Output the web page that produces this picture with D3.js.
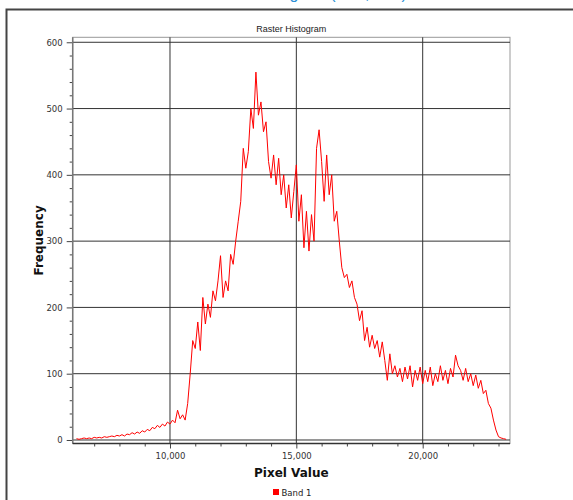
<!DOCTYPE html>
<html>
<head>
<meta charset="utf-8">
<script src="https://cdn.jsdelivr.net/npm/d3@7"></script>
<style>
  body { margin: 0; background: #fff; }
  svg { display: block; }
</style>
</head>
<body>
<div id="chart"></div>
<script>
// pixel value bins, 100 wide
var binStart = 6300;
var binStep = 100;
var frequency = [
  2, 1, 2, 3, 2, 3, 2, 4, 3, 4, 3, 5, 4, 5, 6, 5, 7, 6, 8, 6,
  9, 8, 11, 9, 12, 10, 14, 12, 16, 14, 19, 17, 22, 19, 24, 21, 27, 24,
  30, 26, 45, 32, 38, 30, 55, 100, 150, 138, 178, 135, 215, 175, 205, 185,
  225, 210, 240, 278, 215, 240, 225, 280, 265, 300, 330, 360, 440, 410, 435, 500,
  470, 555, 490, 510, 465, 480, 420, 395, 430, 385, 425, 370, 400, 350, 385, 335,
  375, 415, 330, 370, 290, 345, 285, 340, 300, 440, 468, 420, 360, 430, 370, 400,
  330, 345, 300, 260, 245, 250, 230, 240, 215, 205, 180, 195, 150, 170, 140, 158,
  138, 150, 125, 148, 120, 90, 130, 100, 112, 95, 108, 88, 110, 92, 112, 80,
  105, 90, 110, 85, 105, 88, 110, 82, 100, 88, 112, 90, 105, 85, 108, 95,
  128, 112, 105, 90, 108, 88, 100, 82, 98, 78, 90, 70, 75, 55, 48, 30,
  15, 5, 3, 2, 1
];
var xMajorTicks = [10000, 15000, 20000];
var yMajorTicks = [0, 100, 200, 300, 400, 500, 600];
var chartTitle = "Raster Histogram";
var xTitle = "Pixel Value";
var yTitle = "Frequency";
var seriesName = "Band 1";

var data = frequency.map(function(f, i) {
  return { value: binStart + i * binStep, freq: f };
});

var svgWidth = 573;
var svgHeight = 500;
var plot = { left: 72.7, right: 510, top: 37.3, bottom: 443.5 };

var svg = d3.select("#chart")
  .append("svg")
  .attr("width", svgWidth)
  .attr("height", svgHeight);

// cut off caption above the panel
svg.append("text")
  .attr("x", 253)
  .attr("y", -1)
  .attr("font-family", "Liberation Sans, Arial, sans-serif")
  .attr("font-size", 16)
  .attr("fill", "#2b8fd6")
  .text("Histogram (Red, NIR)");

// panel border
svg.append("path")
  .attr("d", "M6.5,500V9.5H573")
  .attr("fill", "none")
  .attr("stroke", "#444")
  .attr("stroke-width", 2);

var x = d3.scaleLinear()
  .domain([6150, 23455])
  .range([plot.left, plot.right]);

var y = d3.scaleLinear()
  .domain([-5.3, 607.5])
  .range([plot.bottom, plot.top]);

var font = "DejaVu Sans, Verdana, sans-serif";

svg.append("rect")
  .attr("x", plot.left)
  .attr("y", plot.top)
  .attr("width", plot.right - plot.left)
  .attr("height", plot.bottom - plot.top)
  .attr("fill", "#fff")
  .attr("stroke", "#999")
  .attr("stroke-width", 1);

// grid
svg.append("g")
  .selectAll("line")
  .data(yMajorTicks)
  .enter()
  .append("line")
  .attr("x1", plot.left)
  .attr("x2", plot.right)
  .attr("y1", d => y(d))
  .attr("y2", d => y(d))
  .attr("stroke", "#333")
  .attr("stroke-width", 1);

svg.append("g")
  .selectAll("line")
  .data(xMajorTicks)
  .enter()
  .append("line")
  .attr("x1", d => x(d))
  .attr("x2", d => x(d))
  .attr("y1", plot.top)
  .attr("y2", plot.bottom)
  .attr("stroke", "#333")
  .attr("stroke-width", 1);

// axes
var yMinor = d3.range(20, 600, 20).filter(d => d % 100 !== 0);
var xMinor = d3.range(7000, 23001, 1000).filter(d => d % 5000 !== 0);

var leftAxis = d3.axisLeft(y).tickValues(yMajorTicks).tickSize(6).tickPadding(4);
var leftMinor = d3.axisLeft(y).tickValues(yMinor).tickSize(3).tickFormat("");
var bottomAxis = d3.axisBottom(x).tickValues(xMajorTicks).tickSize(5).tickPadding(4)
  .tickFormat(d3.format(","));
var bottomMinor = d3.axisBottom(x).tickValues(xMinor).tickSize(3).tickFormat("");

function styleAxis(g) {
  g.select(".domain").remove();
  g.selectAll("line").attr("stroke", "#444");
  g.selectAll("text")
    .attr("font-family", font)
    .attr("font-size", 8.5)
    .attr("fill", "#333");
}

svg.append("g").attr("transform", `translate(${plot.left},0)`).call(leftAxis).call(styleAxis);
svg.append("g").attr("transform", `translate(${plot.left},0)`).call(leftMinor).call(styleAxis);
svg.append("g").attr("transform", `translate(0,${plot.bottom})`).call(bottomAxis).call(styleAxis);
svg.append("g").attr("transform", `translate(0,${plot.bottom})`).call(bottomMinor).call(styleAxis);

svg.append("line")
  .attr("x1", plot.left).attr("x2", plot.left)
  .attr("y1", plot.top).attr("y2", plot.bottom)
  .attr("stroke", "#777").attr("stroke-width", 1.5);
svg.append("line")
  .attr("x1", plot.left).attr("x2", plot.right)
  .attr("y1", plot.bottom).attr("y2", plot.bottom)
  .attr("stroke", "#333").attr("stroke-width", 1.5);

// histogram line
var line = d3.line()
  .x(d => x(d.value))
  .y(d => y(d.freq));

svg.append("path")
  .datum(data)
  .attr("d", line)
  .attr("fill", "none")
  .attr("stroke", "#ff0000")
  .attr("stroke-width", 1);

// titles
svg.append("text")
  .attr("x", (plot.left + plot.right) / 2)
  .attr("y", 32)
  .attr("text-anchor", "middle")
  .attr("font-family", "Liberation Sans, Arial, sans-serif")
  .attr("font-size", 9)
  .attr("fill", "#222")
  .text(chartTitle);

svg.append("text")
  .attr("x", (plot.left + plot.right) / 2)
  .attr("y", 477)
  .attr("text-anchor", "middle")
  .attr("font-family", font)
  .attr("font-weight", "bold")
  .attr("font-size", 12)
  .attr("fill", "#111")
  .text(xTitle);

svg.append("text")
  .attr("transform", `translate(43,${(plot.top + plot.bottom) / 2}) rotate(-90)`)
  .attr("text-anchor", "middle")
  .attr("font-family", font)
  .attr("font-weight", "bold")
  .attr("font-size", 12)
  .attr("fill", "#111")
  .text(yTitle);

// legend
var legend = svg.append("g").attr("transform", "translate(273,489)");
legend.append("rect")
  .attr("width", 6)
  .attr("height", 6)
  .attr("fill", "#ff0000");
legend.append("text")
  .attr("x", 8.5)
  .attr("y", 6.5)
  .attr("font-family", font)
  .attr("font-size", 8.5)
  .attr("fill", "#222")
  .text(seriesName);
</script>
</body>
</html>
